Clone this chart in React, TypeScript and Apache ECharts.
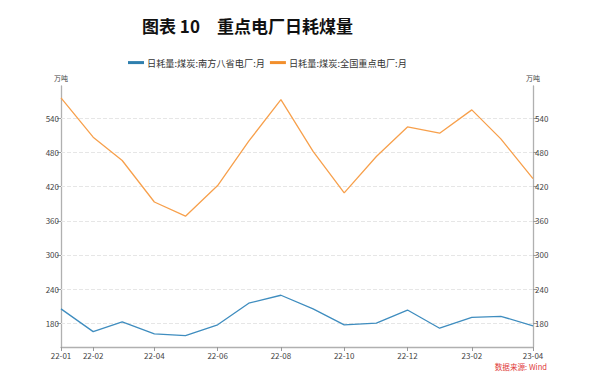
import React, { useEffect, useRef } from "react";
import * as echarts from "echarts";

const months = [
  "2022-01-01", "2022-02-01", "2022-03-01", "2022-04-01", "2022-05-01", "2022-06-01",
  "2022-07-01", "2022-08-01", "2022-09-01", "2022-10-01", "2022-11-01", "2022-12-01",
  "2023-01-01", "2023-02-01", "2023-03-01", "2023-04-01",
];
const southEight = [205, 165, 182, 161, 158, 177, 215, 229, 205, 177, 180, 203, 171, 190, 192, 175];
const national = [576, 507, 466, 393, 368, 422, 500, 573, 482, 409, 473, 525, 514, 555, 504, 434];
const xTickDates = [
  "2022-01-01", "2022-02-01", "2022-04-01", "2022-06-01", "2022-08-01",
  "2022-10-01", "2022-12-01", "2023-02-01", "2023-04-01",
];
const yTicks = [180, 240, 300, 360, 420, 480, 540];
const seriesNames = ["日耗量:煤炭:南方八省电厂:月", "日耗量:煤炭:全国重点电厂:月"];

const ts = (s: string) => {
  const [y, m, d] = s.split("-").map(Number);
  return new Date(y, m - 1, d).getTime();
};

export default function App() {
  const ref = useRef<HTMLDivElement>(null);
  useEffect(() => {
    if (!ref.current) return;
    const chart = echarts.init(ref.current, null, { renderer: "svg" });
    const font = "'Noto Sans CJK SC', 'Noto Sans', sans-serif";
    const yAxisBase = (pos: "left" | "right") => ({
      type: "value" as const,
      position: pos,
      min: 138,
      max: 597,
      name: "万吨",
      nameLocation: "end" as const,
      nameGap: 5,
      nameTextStyle: { fontSize: 7, color: "#444", fontFamily: font, align: "center" as const },
      axisLine: { show: true, lineStyle: { color: "#b0b0b0", width: 1.3 } },
      axisTick: { show: true, length: 4, customValues: yTicks, lineStyle: { color: "#999" } },
      axisLabel: { fontSize: 8, color: "#444", margin: 2, customValues: yTicks, fontFamily: font },
      splitLine: { show: false },
    });
    chart.setOption({
      animation: false,
      backgroundColor: "#fff",
      title: {
        text: "图表 10　重点电厂日耗煤量",
        left: 137,
        top: 12,
        textStyle: { fontSize: 17, fontWeight: "bold", color: "#111", fontFamily: font },
      },
      legend: {
        left: 123,
        top: 53,
        icon: "rect",
        itemWidth: 16,
        itemHeight: 3,
        itemGap: 5,
        textStyle: { fontSize: 9.2, color: "#333", fontFamily: font, padding: [0, 0, 0, -2] },
        data: seriesNames,
      },
      grid: { left: 61, right: 59, top: 86, bottom: 39, containLabel: false },
      xAxis: {
        type: "value",
        min: ts("2022-01-01"),
        max: ts("2023-04-01"),
        axisLine: { lineStyle: { color: "#b0b0b0", width: 1.3 } },
        axisTick: { show: true, length: 4, customValues: xTickDates.map(ts), lineStyle: { color: "#999" } },
        axisLabel: {
          fontSize: 8,
          color: "#444",
          margin: 4,
          fontFamily: font,
          customValues: xTickDates.map(ts),
          formatter: (v: number) => {
            const d = new Date(v);
            const yy = String(d.getFullYear()).slice(2);
            const mm = String(d.getMonth() + 1).padStart(2, "0");
            return `${yy}-${mm}`;
          },
        },
        splitLine: { show: false },
      },
      yAxis: [yAxisBase("left"), yAxisBase("right")],
      graphic: [
        {
          type: "text",
          right: 45,
          top: 363,
          style: { text: "数据来源: Wind", fontSize: 7.6, fill: "#e03a3a", fontFamily: font },
        },
      ],
      series: [
        {
          name: "grid-lines",
          type: "line",
          yAxisIndex: 0,
          z: 1,
          data: [],
          markLine: {
            z: 1,
            silent: true,
            symbol: "none",
            label: { show: false },
            lineStyle: { type: "dashed", color: "#e6e6e6", width: 1 },
            data: yTicks.map((v) => ({ yAxis: v })),
          },
        },
        {
          name: seriesNames[0],
          type: "line",
          yAxisIndex: 0,
          z: 3,
          symbol: "none",
          lineStyle: { width: 1.3, color: "#3f8dbf" },
          itemStyle: { color: "#2f7fae" },
          data: months.map((m, i) => [ts(m), southEight[i]]),
        },
        {
          name: seriesNames[1],
          type: "line",
          yAxisIndex: 0,
          z: 3,
          symbol: "none",
          lineStyle: { width: 1.3, color: "#f7a04c" },
          itemStyle: { color: "#f28f2c" },
          data: months.map((m, i) => [ts(m), national[i]]),
        },
      ],
    });
    return () => chart.dispose();
  }, []);
  return (
    <div
      ref={ref}
      style={{ position: "fixed", left: 0, top: 0, width: 592, height: 386 }}
    />
  );
}
